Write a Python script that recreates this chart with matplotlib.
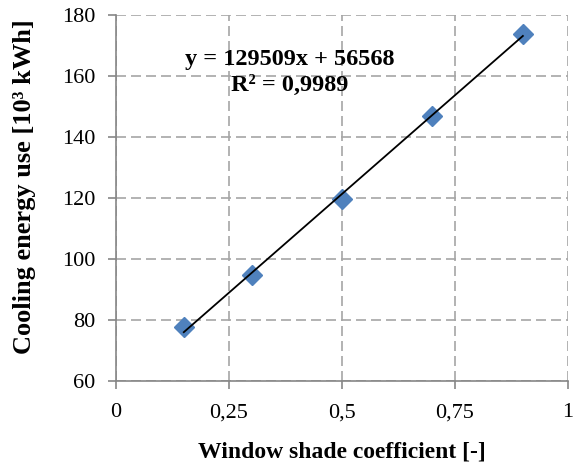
import matplotlib
matplotlib.use("Agg")
import matplotlib.pyplot as plt
import numpy as np

plt.rcParams.update({
    "font.family": "Liberation Serif",
    "font.size": 16,
})

# shade coefficient vs. annual cooling energy use (10^3 kWh)
shade_coef = [0.15, 0.3, 0.5, 0.7, 0.9]
cooling_use = [77.7, 94.6, 119.7, 146.9, 173.9]

# linear trend (kWh): y = 129509x + 56568
slope, intercept = 129509, 56568
r2 = 0.9989

x_ticks = [0, 0.25, 0.5, 0.75, 1]
x_tick_labels = ["0", "0,25", "0,5", "0,75", "1"]
y_ticks = [60, 80, 100, 120, 140, 160, 180]

fig = plt.figure(figsize=(5.73, 4.68), dpi=100)
ax = fig.add_axes([0.2024, 0.186, 0.789, 0.782])

ax.set_xlim(0, 1)
ax.set_ylim(60, 180)
ax.set_xticks(x_ticks)
ax.set_xticklabels(x_tick_labels)
ax.set_yticks(y_ticks)

ax.grid(True, color="#A6A6A6", linestyle=(0, (6, 3)), linewidth=1.2)
ax.set_axisbelow(True)
for side in ("top", "right"):
    ax.spines[side].set_visible(False)
for side in ("left", "bottom"):
    ax.spines[side].set_color("#868686")
    ax.spines[side].set_linewidth(1.2)
ax.tick_params(direction="out", length=6, width=1.2, color="#868686",
               labelsize=16)
ax.tick_params(axis="x", pad=10)
ax.tick_params(axis="y", pad=9)

# trendline across the data range
xt = np.array([shade_coef[0], shade_coef[-1]])
ax.plot(xt, (slope * xt + intercept) / 1000, color="black", lw=1.3, zorder=3)

ax.plot(shade_coef, cooling_use, linestyle="none", marker="D", ms=10,
        color="#4F81BD", mec="#4F81BD", zorder=2, clip_on=False)

ax.text(0.384, 165.4, f"y = {slope}x + {intercept}", ha="center", va="center",
        fontsize=17.5, fontweight="bold")
ax.text(0.384, 156.8, "R² = " + f"{r2}".replace(".", ","), ha="center",
        va="center", fontsize=17.5, fontweight="bold")

ax.set_xlabel("Window shade coefficient [-]", fontweight="bold", fontsize=17,
              labelpad=14)
ax.set_ylabel("Cooling energy use [10³ kWh]", fontweight="bold", fontsize=19)
ax.yaxis.set_label_coords(-0.178, 0.53)

fig.savefig("out.png", dpi=100)
